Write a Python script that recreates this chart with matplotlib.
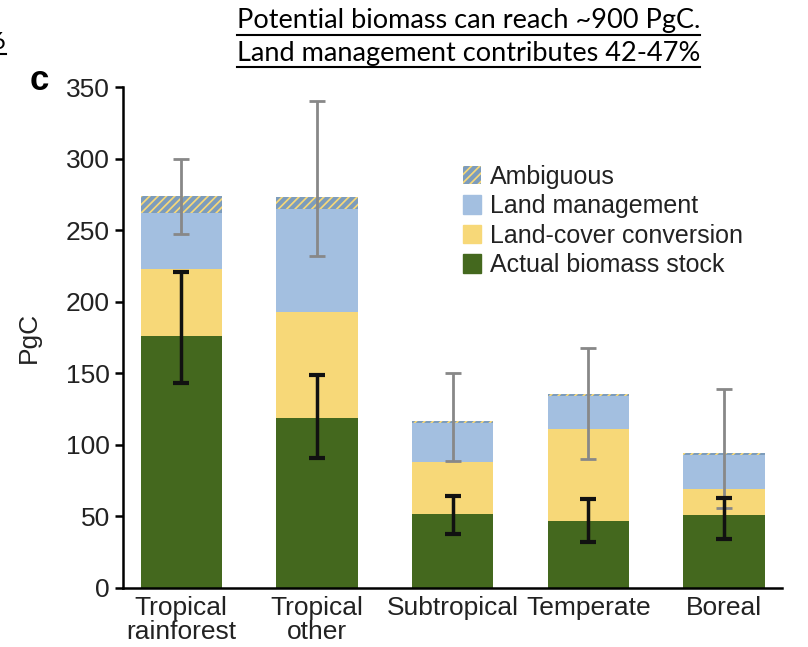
import matplotlib.pyplot as plt
import matplotlib.patches as mpatches
from matplotlib.lines import Line2D
import numpy as np

categories = ["Tropical\nrainforest", "Tropical\nother", "Subtropical", "Temperate", "Boreal"]
actual = [176, 119, 52, 47, 51]
conversion = [47, 74, 36, 64, 18]
management = [39, 72, 27, 23, 24]
ambiguous = [12, 8, 1.5, 1.5, 1.5]
total_low = [247, 232, 89, 90, 56]
total_high = [300, 340, 150, 168, 139]
actual_low = [143, 91, 38, 32, 34]
actual_high = [221, 149, 64, 62, 63]

green = '#44681e'
yellow = '#f7d878'
blue = '#a3bfe0'
hatch_col = '#7c9cbc'

plt.rcParams['font.family'] = ['Liberation Sans', 'DejaVu Sans']
plt.rcParams['hatch.linewidth'] = 3.0

fig = plt.figure(figsize=(8.08, 6.47), dpi=100)
ax = fig.add_axes([0.1522, 0.0912, 0.8158, 0.7743])

x = np.arange(len(categories))
w = 0.6
actual = np.array(actual)
conversion = np.array(conversion)
management = np.array(management)
ambiguous = np.array(ambiguous)

ax.bar(x, actual, w, color=green)
ax.bar(x, conversion, w, bottom=actual, color=yellow)
b2 = actual + conversion
ax.bar(x, management, w, bottom=b2, color=blue)
b3 = b2 + management
ax.bar(x, ambiguous, w, bottom=b3, color=yellow, edgecolor=hatch_col,
       hatch='////', linewidth=0)
total = b3 + ambiguous

ax.errorbar(x, total, yerr=[total - np.array(total_low), np.array(total_high) - total],
            fmt='none', ecolor='#888888', elinewidth=2, capsize=6, capthick=2)
ax.errorbar(x, actual, yerr=[actual - np.array(actual_low), np.array(actual_high) - actual],
            fmt='none', ecolor='#111111', elinewidth=2.5, capsize=6, capthick=3)

ax.set_xlim(-0.43, 4.43)
ax.set_ylim(0, 350)
ax.set_yticks(range(0, 351, 50))
ax.set_xticks(x)
ax.set_xticklabels(categories, fontsize=19, color='#222222', linespacing=1.0)
ax.tick_params(axis='y', labelsize=19, labelcolor='#222222', length=6, width=1.8, direction='out')
ax.tick_params(axis='x', length=0, pad=6)
for s in ['top', 'right']:
    ax.spines[s].set_visible(False)
for s in ['left', 'bottom']:
    ax.spines[s].set_linewidth(1.8)
ax.set_ylabel('PgC', fontsize=19, color='#222222', labelpad=18)

handles = [
    mpatches.Patch(facecolor=yellow, edgecolor=hatch_col, hatch='////', linewidth=0, label='Ambiguous'),
    mpatches.Patch(color=blue, label='Land management'),
    mpatches.Patch(color=yellow, label='Land-cover conversion'),
    mpatches.Patch(color=green, label='Actual biomass stock'),
]
ax.legend(handles=handles, loc='upper left', bbox_to_anchor=(0.5, 0.865), frameon=False,
          fontsize=18, handlelength=0.75, handleheight=0.75, handletextpad=0.35,
          labelspacing=0.22, borderaxespad=0, labelcolor='#222222')

fig.text(0.049, 0.876, 'c', fontsize=25, fontweight='heavy', ha='center', va='center')

t1 = fig.text(0.58, 0.968, 'Potential biomass can reach ~900 PgC.', fontsize=19.5,
              family='Lato', ha='center', va='center')
t2 = fig.text(0.58, 0.918, 'Land management contributes 42-47%', fontsize=19.5,
              family='Lato', ha='center', va='center')
t3 = fig.text(0.007, 0.935, '6', fontsize=17, family='Lato', ha='right', va='center')

fig.canvas.draw()
r = fig.canvas.get_renderer()
for t in [t1, t2, t3]:
    bb = t.get_window_extent(r).transformed(fig.transFigure.inverted())
    fig.add_artist(Line2D([bb.x0, bb.x1], [bb.y0 - 0.003, bb.y0 - 0.003], color='black', lw=1.5,
                          transform=fig.transFigure))

fig.savefig('out.png', dpi=100)
